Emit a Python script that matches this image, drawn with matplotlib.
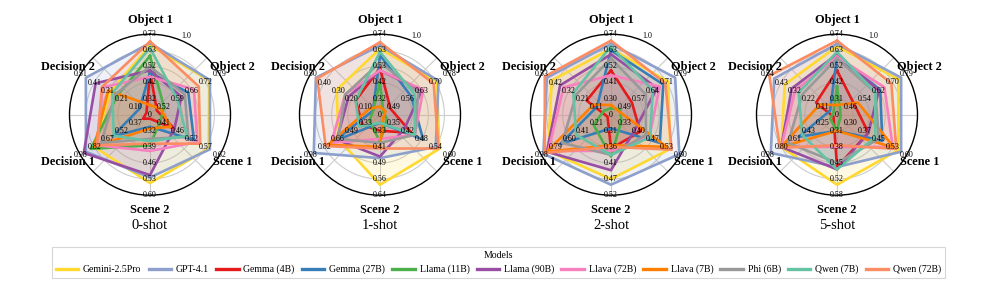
import numpy as np
import matplotlib
matplotlib.use("Agg")
import matplotlib.pyplot as plt
from matplotlib.lines import Line2D

plt.rcParams['font.family'] = ['Liberation Serif', 'DejaVu Serif']

categories = ['Object 1', 'Object 2', 'Scene 1', 'Scene 2', 'Decision 1', 'Decision 2']
shots = ['0-shot', '1-shot', '2-shot', '5-shot']
models = ['Gemini-2.5Pro', 'GPT-4.1', 'Gemma (4B)', 'Gemma (27B)', 'Llama (11B)', 'Llama (90B)',
          'Llava (72B)', 'Llava (7B)', 'Phi (6B)', 'Qwen (7B)', 'Qwen (72B)']
colors = ['#FFD92F', '#8DA0CB', '#E41A1C', '#377EB8', '#4DAF4A', '#984EA3',
          '#F781BF', '#FF7F00', '#999999', '#66C2A5', '#FC8D62']

# axis tick labels (value shown at r = 0.2, 0.4, 0.6, 0.8, 1.0) per shot and axis
ticks_0shot = [[0.32, 0.42, 0.52, 0.63, 0.73], [0.52, 0.59, 0.66, 0.72, 0.79], [0.41, 0.46, 0.52, 0.57, 0.62],
               [0.32, 0.39, 0.46, 0.53, 0.60], [0.37, 0.52, 0.67, 0.82, 0.98], [0.10, 0.21, 0.31, 0.41, 0.51]]
ticks_1shot = [[0.32, 0.42, 0.53, 0.63, 0.74], [0.49, 0.56, 0.63, 0.70, 0.78], [0.35, 0.42, 0.48, 0.54, 0.60],
               [0.33, 0.41, 0.49, 0.56, 0.64], [0.33, 0.49, 0.66, 0.82, 0.98], [0.10, 0.20, 0.30, 0.40, 0.50]]
ticks_2shot = [[0.30, 0.41, 0.52, 0.63, 0.74], [0.49, 0.57, 0.64, 0.71, 0.79], [0.33, 0.40, 0.47, 0.53, 0.60],
               [0.31, 0.36, 0.41, 0.47, 0.52], [0.21, 0.41, 0.60, 0.79, 0.98], [0.11, 0.21, 0.32, 0.42, 0.53]]
ticks_5shot = [[0.31, 0.42, 0.52, 0.63, 0.74], [0.46, 0.54, 0.62, 0.70, 0.79], [0.30, 0.37, 0.45, 0.53, 0.60],
               [0.31, 0.38, 0.45, 0.52, 0.58], [0.25, 0.43, 0.61, 0.80, 0.98], [0.11, 0.22, 0.32, 0.43, 0.54]]

# normalized scores per model: Object 1, Object 2, Scene 1, Scene 2, Decision 1, Decision 2
scores_0shot = [
    [0.86, 0.85, 0.84, 0.85, 0.80, 0.57],  # Gemini
    [0.89, 0.86, 0.86, 0.78, 0.92, 0.92],  # GPT
    [0.53, 0.10, 0.35, 0.05, 0.10, 0.05],  # Gemma 4B
    [0.52, 0.55, 0.63, 0.15, 0.54, 0.15],  # Gemma 27B
    [0.73, 0.20, 0.15, 0.38, 0.85, 0.47],  # Llama 11B
    [0.55, 0.45, 0.35, 0.75, 0.95, 0.78],  # Llama 90B
    [0.47, 0.63, 0.68, 0.45, 0.76, 0.68],  # Llava 72B
    [0.12, 0.15, 0.30, 0.17, 0.80, 0.60],  # Llava 7B
    [0.60, 0.50, 0.55, 0.30, 0.70, 0.50],  # Phi
    [0.83, 0.39, 0.53, 0.33, 0.52, 0.54],  # Qwen 7B
    [0.91, 0.70, 0.72, 0.36, 0.76, 0.69],  # Qwen 72B
]
scores_1shot = [
    [0.82, 0.82, 0.85, 0.87, 0.60, 0.62],
    [0.86, 0.84, 0.80, 0.54, 0.95, 0.92],
    [0.58, 0.15, 0.45, 0.20, 0.25, 0.35],
    [0.74, 0.45, 0.62, 0.10, 0.66, 0.10],
    [0.40, 0.05, 0.10, 0.34, 0.15, 0.10],
    [0.55, 0.60, 0.35, 0.52, 0.62, 0.45],
    [0.55, 0.62, 0.50, 0.30, 0.70, 0.50],
    [0.10, 0.08, 0.05, 0.40, 0.75, 0.15],
    [0.65, 0.55, 0.50, 0.35, 0.60, 0.50],
    [0.78, 0.50, 0.50, 0.10, 0.30, 0.35],
    [0.90, 0.77, 0.84, 0.42, 0.78, 0.90],
]
scores_2shot = [
    [0.82, 0.82, 0.85, 0.80, 0.90, 0.85],
    [0.88, 0.92, 0.98, 0.87, 0.97, 0.92],
    [0.55, 0.30, 0.42, 0.42, 0.05, 0.35],
    [0.80, 0.75, 0.70, 0.17, 0.73, 0.20],
    [0.08, 0.13, 0.15, 0.52, 0.25, 0.10],
    [0.75, 0.66, 0.35, 0.69, 0.92, 0.73],
    [0.49, 0.70, 0.55, 0.45, 0.90, 0.68],
    [0.12, 0.10, 0.80, 0.38, 0.92, 0.25],
    [0.70, 0.50, 0.50, 0.50, 0.70, 0.50],
    [0.85, 0.60, 0.56, 0.50, 0.50, 0.54],
    [0.92, 0.78, 0.87, 0.40, 0.95, 0.95],
]
scores_5shot = [
    [0.85, 0.88, 0.88, 0.87, 0.80, 0.75],
    [0.88, 0.92, 0.92, 0.65, 0.95, 0.90],
    [0.55, 0.25, 0.45, 0.65, 0.05, 0.30],
    [0.72, 0.62, 0.65, 0.20, 0.55, 0.10],
    [0.35, 0.05, 0.05, 0.20, 0.10, 0.05],
    [0.75, 0.60, 0.45, 0.68, 0.80, 0.65],
    [0.72, 0.68, 0.80, 0.40, 0.80, 0.60],
    [0.12, 0.30, 0.82, 0.20, 0.80, 0.25],
    [0.70, 0.55, 0.60, 0.60, 0.70, 0.50],
    [0.78, 0.55, 0.55, 0.68, 0.50, 0.55],
    [0.92, 0.78, 0.85, 0.38, 0.82, 0.97],
]

all_ticks = [ticks_0shot, ticks_1shot, ticks_2shot, ticks_5shot]
all_scores = [scores_0shot, scores_1shot, scores_2shot, scores_5shot]

W, H = 997, 292
fig = plt.figure(figsize=(W / 100, H / 100), dpi=100)

centers_x = [150, 380, 611, 837]
cy = 114.7
R = 80.5
angles = np.linspace(0, 2 * np.pi, len(categories), endpoint=False)
closed = np.concatenate([angles, angles[:1]])

for k in range(4):
    ax = fig.add_axes([(centers_x[k] - R) / W, (H - cy - R) / H, 2 * R / W, 2 * R / H], projection='polar')
    ax.set_theta_offset(np.pi / 2)
    ax.set_theta_direction(-1)
    ax.set_ylim(0, 1)
    ax.set_xticks(np.deg2rad(np.arange(0, 360, 45)))
    ax.set_xticklabels([])
    ax.set_yticks([0.2, 0.4, 0.6, 0.8])
    ax.set_yticklabels([])
    ax.grid(color='#cccccc', linewidth=0.8)
    ax.spines['polar'].set_color('black')
    ax.spines['polar'].set_linewidth(1.0)

    for m in range(len(models)):
        vals = np.array(all_scores[k][m])
        vals = np.concatenate([vals, vals[:1]])
        ax.plot(closed, vals, color=colors[m], linewidth=1.9, zorder=3)
        ax.fill(closed, vals, color=colors[m], alpha=0.14, zorder=2)

    for i, cat in enumerate(categories):
        for j, t in enumerate(all_ticks[k][i]):
            ax.text(angles[i], 0.2 * (j + 1), f'{t:.2f}', fontsize=5.8, ha='center', va='center', zorder=5)
        ax.text(angles[i], 1.18, cat, fontsize=8.8, fontweight='bold', ha='center', va='center')
    ax.text(0, 0, '0', fontsize=5.8, ha='center', va='center', zorder=5)
    ax.text(np.deg2rad(25), 1.08, '1.0', fontsize=5.8, ha='center', va='center')
    ax.text(0.5, -0.19, shots[k], fontsize=10.5, ha='center', va='center', transform=ax.transAxes)

handles = [Line2D([0], [0], color=c, linewidth=2.4) for c in colors]
leg = fig.legend(handles, models, loc='center', bbox_to_anchor=(0.5, 0.101), ncol=11, title='Models',
                 fontsize=7, title_fontsize=7, handlelength=2.3, columnspacing=0.75, handletextpad=0.5,
                 frameon=True, fancybox=False, borderpad=0.35)
leg.get_frame().set_edgecolor('#cccccc')
leg.get_frame().set_linewidth(0.8)

fig.savefig('out.png', dpi=100)
